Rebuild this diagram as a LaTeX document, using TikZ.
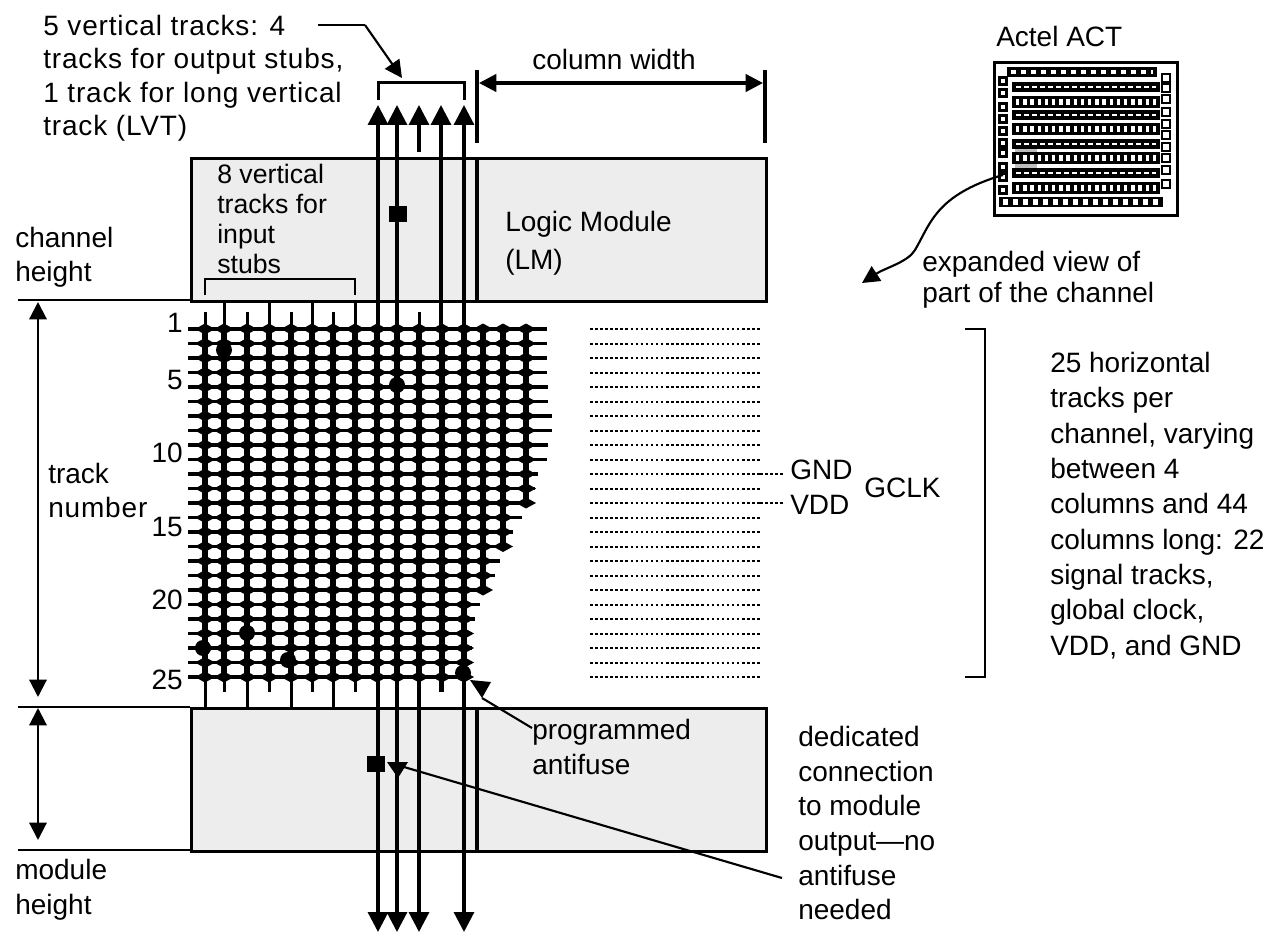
\documentclass[tikz,border=0pt]{standalone}
\usepackage{fontspec}
\setmainfont{Liberation Sans}
\newfontfamily\widefont[LetterSpace=3]{Liberation Sans}
\usepackage{tikz}
\usetikzlibrary{arrows.meta, positioning}
\definecolor{boxgray}{HTML}{EDEDED}
\definecolor{patchgray}{HTML}{BDBDBD}
\tikzset{
  lbl/.style={anchor=north west, inner sep=0pt, yshift=-1.5pt, align=left, font=\fontsize{21}{#1}\selectfont},
  lbl/.default=26,
  modbox/.style={draw, fill=boxgray, line width=2.25pt, anchor=north west, inner sep=0pt, minimum width=431.25pt, minimum height=107.25pt},
  track/.style={line width=2.4pt},
  stub/.style={line width=2.25pt},
  leader/.style={line width=1.6pt},
  bigtip/.style={-{Triangle[length=15pt,width=15pt]}},
  dimtip/.style={{Triangle[length=13pt,width=13pt]}-{Triangle[length=13pt,width=13pt]}},
  dotrow/.style={line width=1.5pt, dash pattern=on 1.9pt off 1.9pt}
}
\begin{document}
\begin{tikzpicture}[x=0.75pt, y=-0.75pt]
  \useasboundingbox (0,0) rectangle (1268,938);

  % module boxes
  \node[modbox] (topmod) at (190,157) {};
  \node[modbox] (botmod) at (190,707) {};
  \draw[track] (477,157) -- (477,300);
  \draw[track] (477,707) -- (477,850);

  % horizontal tracks with their right ends
  \foreach \r/\e in {1/547,2/547,3/547,4/547,5/548,6/548,7/552,8/552,9/548,10/547,11/538,12/535,13/530,14/522,15/513,16/507,17/500,18/495,19/485,20/480,21/475,22/472,23/472,24/472,25/467}
    \draw[line width=2.6pt] (188,{314.5+14.5*\r}) -- (\e,{314.5+14.5*\r});

  % crossings, one column at a time
  \foreach \x/\last in {205/25,224/25,247/25,269/25,291/25,312/25,333/25,355/25,377/25,397/25,419/25,442/25,464/25,483/19,503/16,526/13}{
    \fill (\x-3,329) rectangle (\x+3,{314.5+14.5*\last});
    \foreach \r in {1,...,\last}
      \fill (\x-10,{314.5+14.5*\r}) -- (\x,{309+14.5*\r}) -- (\x+10,{314.5+14.5*\r}) -- (\x,{320+14.5*\r}) -- cycle;
  }
  \foreach \x/\y in {224/350,397/385,247/633,203/648,288/660,463/673}
    \fill (\x,\y) circle[radius=6pt];

  % stubs above and below the grid
  \foreach \x in {224,269,312,355} \draw[stub] (\x,300) -- (\x,329);
  \foreach \x in {205,247,291,333,419} \draw[stub] (\x,312) -- (\x,329);
  \foreach \x in {205,247,291,333} \draw[stub] (\x,677) -- (\x,707);
  \foreach \x in {224,269,312,355,442} \draw[stub] (\x,677) -- (\x,692);

  % long vertical tracks
  \foreach \x in {378,397,464}{
    \coordinate (up\x) at (\x,105);
    \coordinate (dn\x) at (\x,932);
    \draw[track, {Triangle[length=15pt,width=15pt]}-{Triangle[length=15pt,width=15pt]}] (up\x) -- (dn\x);
  }
  \coordinate (up442) at (441,105);
  \coordinate (lo442) at (441,692);
  \draw[track, bigtip] (lo442) -- (up442);
  \coordinate (up419) at (419,105);
  \coordinate (lo419) at (419,152);
  \draw[track, bigtip] (lo419) -- (up419);
  \coordinate (hi419) at (419,677);
  \coordinate (dn419) at (419,932);
  \draw[track, bigtip] (hi419) -- (dn419);

  % antifuse squares
  \node[fill, inner sep=0pt, minimum width=14pt, minimum height=11.5pt] (fusetop) at (398,214) {};
  \node[fill, inner sep=0pt, minimum width=14pt, minimum height=11.5pt] (fusebot) at (376,764) {};

  % brackets
  \coordinate (brka) at (378,100);
  \coordinate (brkb) at (464,100);
  \draw[line width=2.25pt] (brka) -- (378,83) -- (464,83) -- (brkb);
  \coordinate (inpa) at (205,295);
  \coordinate (inpb) at (355,295);
  \draw[line width=1.6pt] (inpa) -- (205,279) -- (355,279) -- (inpb);

  % column width
  \draw[track] (477,70) -- (477,143);
  \draw[track] (765,70) -- (765,143);
  \coordinate (cola) at (479,83);
  \coordinate (colb) at (763,83);
  \draw[track, dimtip] (cola) -- (colb);

  % channel and module height
  \draw[line width=1.6pt] (18,300) -- (190,300);
  \draw[line width=1.6pt] (18,707) -- (190,707);
  \draw[line width=1.6pt] (18,850) -- (190,850);
  \coordinate (tka) at (38,302);
  \coordinate (tkb) at (38,697);
  \coordinate (tkc) at (38,708);
  \coordinate (tkd) at (38,840);
  \draw[line width=1.6pt, dimtip] (tka) -- (tkb);
  \draw[line width=1.6pt, dimtip] (tkc) -- (tkd);

  % horizontal bracket on the right
  \draw[line width=1.6pt] (965,329) -- (985,329) -- (985,677) -- (965,677);

  % dotted tracks of the next columns
  \foreach \r in {1,...,25}
    \draw[dotrow] (590,{314.5+14.5*\r}) -- (760,{314.5+14.5*\r});
  \draw[dotrow] (760,474) -- (785,474);
  \draw[dotrow] (760,503) -- (785,503);

  % chip sketch
  \node[draw, line width=2.25pt, anchor=north west, inner sep=0pt, minimum width=137pt, minimum height=115pt] (chip) at (993,61) {};
  \foreach \y in {87,115,144,173}{
    \draw[line width=7.5pt] (1012,\y) -- (1160,\y);
    \draw[white, line width=1.8pt, dash pattern=on 3.4pt off 2.6pt] (1016,\y) -- (1156,\y);
  }
  \foreach \y in {102,129,158,188}{
    \draw[line width=8.5pt] (1012,\y) -- (1160,\y);
    \draw[white, line width=4.5pt, dash pattern=on 2.6pt off 2.8pt] (1016,\y) -- (1156,\y);
  }
  \fill[patchgray] (1015,149) rectangle (1037,152.5);
  \fill[patchgray] (1015,164) rectangle (1037,168);
  \draw[line width=7pt] (1007,72) -- (1157,72);
  \draw[white, line width=3pt, dash pattern=on 3.5pt off 4pt] (1011,72) -- (1153,72);
  \draw[line width=7.5pt] (999,202) -- (1163,202);
  \draw[white, line width=4pt, dash pattern=on 3.5pt off 4pt] (1003,202) -- (1159,202);
  \foreach \y in {81,93,107,119,131,143,153,167,177,190}{
    \fill (998,\y-5) rectangle (1008,\y+5);
    \fill[white] (1001,\y-2) rectangle (1005,\y+2);
  }
  \foreach \y in {78,88,99,112,124,135,147,158,170,184}{
    \fill (1161,\y-5) rectangle (1171,\y+5);
    \fill[white] (1163,\y-3) rectangle (1169,\y+3);
  }
  \coordinate (chiptap) at (1003,175);

  % text
  \node[lbl=25] (tracknote) at (43,13) {\widefont 5 vertical tracks: 4\\\widefont tracks for output stubs,\\\widefont 1 track for long vertical\\\widefont track (LVT)};
  \node[lbl=22.5, font=\fontsize{20}{22.5}\selectfont] (inputnote) at (217,162) {8 vertical\\tracks for\\input\\stubs};
  \node[lbl=28.5] (lmlabel) at (505,209) {Logic Module\\(LM)};
  \node[lbl=25.5] (chlabel) at (15,225) {channel\\height};
  \node[lbl=25.5] (tnlabel) at (48,461) {track\\\widefont number};
  \node[lbl=26.5] (mhlabel) at (15,857) {module\\height};
  \node[lbl] (actlabel) at (996,24) {Actel ACT};
  \node[lbl] (collabel) at (532,47) {column width};
  \node[lbl=23.5] (expnote) at (922,249) {expanded view of\\part of the channel};
  \node[lbl=26.5] (hznote) at (1050,350) {25 horizontal\\tracks per\\channel, varying\\between 4\\columns and 44\\columns long: 22\\signal tracks,\\global clock,\\VDD, and GND};
  \node[lbl] (gndlabel) at (790,458) {GND};
  \node[lbl] (vddlabel) at (790,493) {VDD};
  \node[lbl] (gclklabel) at (864,476) {GCLK};
  \node[lbl=26] (pgmlabel) at (532,717) {programmed\\antifuse};
  \node[lbl=26] (dednote) at (798,724) {dedicated\\connection\\to module\\output—no\\antifuse\\needed};
  \foreach \n/\y in {1/323,5/380,10/453,15/527,20/600,25/680}
    \node[anchor=east, inner sep=0pt, font=\fontsize{21}{26}\selectfont] (num\n) at (183,\y) {\n};

  % leaders
  \coordinate (notestart) at (318,25);
  \coordinate (noteknee) at (365,25);
  \draw[leader] (notestart) -- (noteknee);
  \draw[leader, -{Triangle[length=13pt,width=13pt]}] (noteknee) -- (402,78);
  \draw[leader, -{Triangle[length=13pt,width=13pt]}] (chiptap) .. controls (935,195) and (930,225) .. (915,250) .. controls (908,262) and (885,268) .. (862,283);
  \coordinate (pgmtip) at (482,698);
  \fill (470,680) -- (491,682) -- (pgmtip) -- cycle;
  \draw[leader] (pgmtip) -- (pgmlabel.north west |- 0,728);
  \coordinate (dedtip) at (398,778);
  \fill (387,762) -- (408,762) -- (dedtip) -- cycle;
  \coordinate (dedend) at (782,878);
  \draw[leader] (404,767) -- (dedend);
\end{tikzpicture}
\end{document}
